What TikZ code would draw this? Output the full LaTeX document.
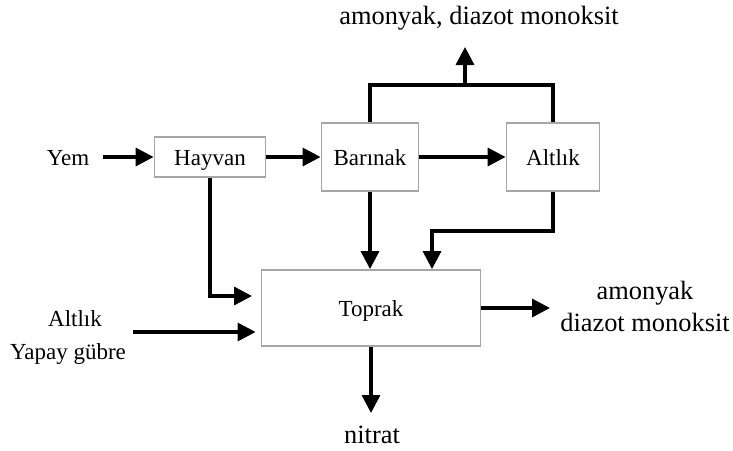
\documentclass[tikz,border=0pt]{standalone}
\usepackage{fontspec}
\setmainfont{Liberation Serif}
\usetikzlibrary{arrows.meta}
\begin{document}
\begin{tikzpicture}[x=0.5pt,y=-0.5pt,
  box/.style={draw=gray!70,line width=0.9pt,inner sep=0pt,text height=8pt,text depth=0pt,
    font=\fontsize{11.5}{14}\selectfont},
  arr/.style={line width=1.7pt,-{Triangle[length=9pt,width=9pt]}},
  lbl/.style={inner sep=0pt,font=\fontsize{13.2}{16}\selectfont},
  lbs/.style={inner sep=0pt,text height=8pt,text depth=0pt,font=\fontsize{11.5}{16}\selectfont}]
  \useasboundingbox (0,0) rectangle (733,450);
  % kutular
  \node[box,minimum width=55.5pt,minimum height=20pt] (hayvan) at (210,157) {Hayvan};
  \node[box,minimum width=48.5pt,minimum height=34pt] (barinak) at (370,157) {Barınak};
  \node[box,minimum width=46.5pt,minimum height=34pt] (altlik) at (553,157) {Altlık};
  \node[box,minimum width=109.5pt,minimum height=38pt] (toprak) at (371,308) {Toprak};
  % yazilar
  \node[lbs] (yem) at (68,157) {Yem};
  \node[lbs] (girdi1) at (75,318) {Altlık};
  \node[lbs] (girdi2) at (68,351) {Yapay gübre};
  \node[lbl] (gasust) at (479,18) {amonyak, diazot monoksit};
  \node[lbl,align=center] (gasyan) at (645,306) {amonyak\\diazot monoksit};
  \node[lbl] (nitrat) at (372,435) {nitrat};
  % ara noktalar
  \coordinate (tp) at (465,85);
  \coordinate (gasup) at (465,47);
  \coordinate (ak) at (432,231);
  \coordinate (hk) at (252,296);
  \coordinate (gb) at (133,332);
  \coordinate (cikis) at (550,308);
  \coordinate (nt) at (371,413);
  % oklar
  \draw[arr,shorten <=6.5pt] (yem.east) -- (hayvan.west);
  \draw[arr] (hayvan.east) -- (barinak.west);
  \draw[arr] (barinak.east) -- (altlik.west);
  \draw[line width=1.7pt] (barinak.north) |- (tp) -| (altlik.north);
  \draw[arr] (tp) -- (gasup);
  \draw[arr] (barinak.south) -- (barinak.south |- toprak.north);
  \draw[arr] (altlik.south) |- (ak) -- (ak |- toprak.north);
  \draw[arr] (hayvan.south) |- (hk);
  \draw[arr,shorten >=2.5pt] (gb) -- (gb -| toprak.west);
  \draw[arr] (toprak.east) -- (cikis);
  \draw[arr] (toprak.south) -- (nt);
\end{tikzpicture}
\end{document}
